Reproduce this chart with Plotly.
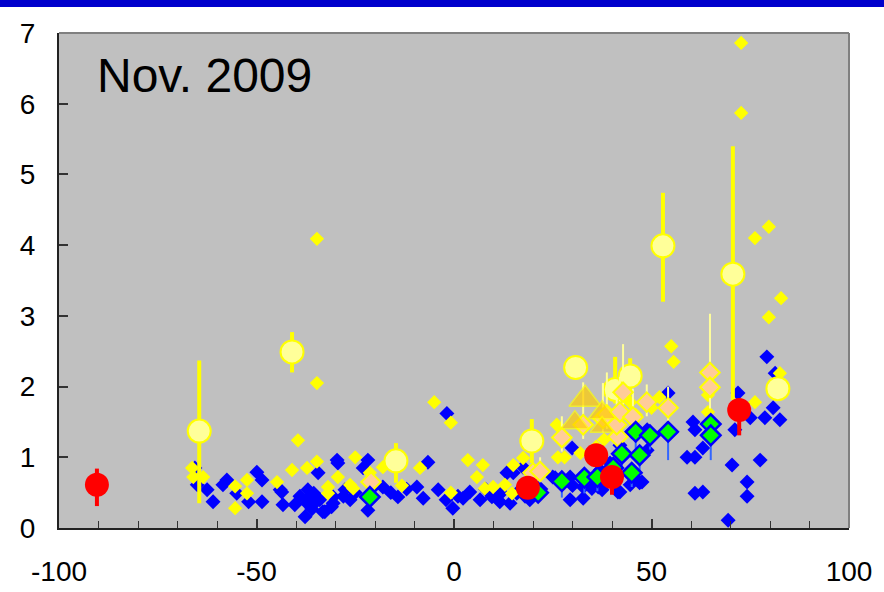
import plotly.graph_objects as go

# ---------------- data ----------------
blue_x = [-65.6, -65, -62.5, -61, -58.5, -57.5, -55, -49.9, -48.6, -52, -48.6, -44, -43.6, -43.3, -40.3,
          -37.7, -37, -37, -35.7, -34.4, -33.2, -29.6, -30.6, -29.4, -21.8, -37.2, -35.5, -32.7, -30.6,
          -27.6, -26.3, -21.8, -18, -14.2, -9.4, -7.8, -6.6, -4, -0.3, 2.3, 4, 6.6, 9.6, 11.6, 14.2, 15.9,
          15, 17.5, 25, -1.8, -39, -36, -34, -31, -28, -25, -23, -20, -16, -12, -2, 1, 8, 12, 18, 20, 22,
          25.6, 29.9, 29.4, 32.7, 30, 36.5, 41.5, 44.6, 47, 60.5, 61, 63, 59, 61, 61, 63, 70.4, 74.2, 74.2,
          69.4, 77.5, 79.2, 80.8, 82.5, 78.7, 71.9, 71.1, 75, 81.3, 34.9, 37.5, 42, 47.6, 29.4, 32.7, 39.5,
          37, 45, 48.9, 54.2, 42, 48.9, 19.2, 13.4]
blue_y = [0.85, 0.61, 0.54, 0.37, 0.61, 0.68, 0.49, 0.79, 0.68, 0.37, 0.37, 0.54, 0.51, 0.33, 0.33,
          0.16, 0.54, 0.42, 0.33, 0.78, 0.23, 0.96, 0.35, 0.92, 0.96, 0.35, 0.49, 0.23, 0.44,
          0.54, 0.40, 0.25, 0.58, 0.44, 0.58, 0.42, 0.93, 0.54, 0.28, 0.42, 0.51, 0.40, 0.44, 0.37, 0.35, 0.49,
          0.78, 0.86, 0.72, 1.62, 0.45, 0.27, 0.40, 0.30, 0.45, 0.50, 0.85, 0.60, 0.50, 0.55, 0.40, 0.45, 0.55, 0.50, 0.45, 0.50, 0.55,
          0.71, 1.13, 0.40, 0.42, 0.60, 0.58, 0.51, 0.61, 0.64, 1.50, 1.39, 1.13, 1.00, 1.00, 0.49, 0.51, 0.89, 0.65, 0.45,
          0.11, 0.96, 2.42, 1.70, 1.53, 1.56, 1.91, 1.39, 1.56, 2.19, 0.56, 0.54, 0.51, 0.65, 0.72, 0.58, 0.92,
          0.82, 1.36, 1.39, 1.91, 1.17, 1.10, 0.40, 0.78]

yellow_x = [72.7, 72.7, 76.2, 79.7, 79.7, 82.8, -34.7, -34.7, 55, 55.6, -39.5, -5, -0.8, -66.3, -63.5, -66,
            -55.4, -52.4, -52.4, -55.4, -44.8, -41, -37.2, -34.7, -31.9, -31.9, -29.4, -25, -26.3, -25.5,
            -18, -21.3, -13.2, -8.6, 3.5, 7.3, 5.8, 7.8, 9.9, 12.9, 14.7, -0.8, 15, 17.5, 26, 26.3, 28,
            44.6, 52, 64.3, 76.2, 82.5, 32, 64.3, 36, 38, 46, 50]
yellow_y = [6.86, 5.87, 4.10, 4.26, 2.98, 3.25, 4.09, 2.05, 2.57, 2.35, 1.24, 1.78, 1.49, 0.85, 0.72, 0.72,
            0.59, 0.68, 0.49, 0.28, 0.65, 0.82, 0.85, 0.94, 0.58, 0.49, 0.72, 1.00, 0.61, 0.56,
            0.86, 0.78, 0.60, 0.85, 0.96, 0.89, 0.72, 0.56, 0.58, 0.61, 0.49, 0.50, 0.89, 0.99, 1.46, 1.00, 1.00,
            1.78, 1.85, 1.64, 1.78, 2.19, 1.06, 1.88, 1.15, 1.25, 1.60, 1.70]

circle_x = [-64.5, -41, -14.7, 19.7, 30.8, 40.8, 44.6, 52.9, 70.6, 82]
circle_y = [1.37, 2.49, 0.95, 1.23, 2.27, 1.96, 2.15, 3.99, 3.59, 1.97]
circle_eplus = [1.00, 0.28, 0.25, 0.31, 0.0, 0.46, 0.25, 0.75, 1.81, 0.0]
circle_eminus = [1.02, 0.29, 0.31, 0.31, 0.0, 0.20, 0.20, 0.79, 1.78, 0.0]

tri_x = [33.2, 30.6, 37.5, 37.5]
tri_y = [1.82, 1.49, 1.63, 1.43]
tri_size = [28, 24, 24, 21]

peach_x = [-21, 20, 21.8, 27.3, 32.7, 37.7, 38.7, 41.5, 41.2, 42, 42.8, 45.3, 48.8, 54.2, 64.8, 64.8]
peach_y = [0.65, 0.78, 0.80, 1.28, 1.46, 1.55, 1.60, 1.29, 1.46, 1.64, 1.92, 1.57, 1.78, 1.70, 2.20, 1.99]
peach_eplus = [0.1, 0.1, 0.2, 0.3, 0.6, 0.5, 0.6, 0.3, 0.4, 0.5, 0.68, 0.4, 0.25, 0.3, 0.83, 0.3]
peach_eminus = [0.1, 0.1, 0.1, 0.2, 0.2, 0.2, 0.2, 0.2, 0.2, 0.2, 0.2, 0.2, 0.2, 0.2, 0.2, 0.3]

green_x = [-21.3, 21.3, 27.3, 33, 36.3, 40.3, 45, 42.5, 47, 46, 49.6, 54.2, 65, 65]
green_y = [0.44, 0.50, 0.66, 0.71, 0.72, 0.85, 0.78, 1.05, 1.03, 1.36, 1.31, 1.36, 1.47, 1.31]
green_eplus = [0.05, 0.05, 0.1, 0.1, 0.1, 0.1, 0.1, 0.1, 0.1, 0.1, 0.1, 0.1, 0.1, 0.1]
green_eminus = [0.05, 0.1, 0.23, 0.22, 0.2, 0.2, 0.2, 0.2, 0.25, 0.3, 0.2, 0.4, 0.3, 0.35]

red_x = [-90.4, 18.7, 36, 40, 72.2]
red_y = [0.61, 0.57, 1.03, 0.72, 1.67]
red_eplus = [0.23, 0.0, 0.0, 0.0, 0.1]
red_eminus = [0.30, 0.0, 0.0, 0.25, 0.36]

x_ticks = [-100, -50, 0, 50, 100]
y_ticks = [0, 1, 2, 3, 4, 5, 6, 7]
label = "Nov. 2009"

# ---------------- figure ----------------
fig = go.Figure()

fig.add_trace(go.Scatter(x=blue_x, y=blue_y, mode="markers",
                         marker=dict(symbol="diamond", size=11.5, color="#0000FF", line=dict(width=0))))
fig.add_trace(go.Scatter(x=yellow_x, y=yellow_y, mode="markers",
                         marker=dict(symbol="diamond", size=11, color="#FFFF00", line=dict(width=0))))
fig.add_trace(go.Scatter(x=circle_x, y=circle_y, mode="markers",
                         error_y=dict(type="data", symmetric=False, array=circle_eplus,
                                      arrayminus=circle_eminus, color="#FFFF00", thickness=4, width=0),
                         marker=dict(symbol="circle", size=23, color="#FFFF99",
                                     line=dict(width=2, color="#FFFF00"))))
fig.add_trace(go.Scatter(x=peach_x, y=peach_y, mode="markers",
                         error_y=dict(type="data", symmetric=False, array=peach_eplus,
                                      arrayminus=peach_eminus, color="#FFFF99", thickness=2, width=0),
                         marker=dict(symbol="diamond", size=15, color="#FFCC99",
                                     line=dict(width=2, color="#FFFF00"))))
fig.add_trace(go.Scatter(x=tri_x, y=tri_y, mode="markers",
                         marker=dict(symbol="triangle-up", size=tri_size, color="#FFCC00",
                                     line=dict(width=1.5, color="#FFFF00"))))
fig.add_trace(go.Scatter(x=green_x, y=green_y, mode="markers",
                         error_y=dict(type="data", symmetric=False, array=green_eplus,
                                      arrayminus=green_eminus, color="#3366FF", thickness=2, width=0),
                         marker=dict(symbol="diamond", size=15, color="#00FF00",
                                     line=dict(width=2.5, color="#0000FF"))))
fig.add_trace(go.Scatter(x=red_x, y=red_y, mode="markers",
                         error_y=dict(type="data", symmetric=False, array=red_eplus,
                                      arrayminus=red_eminus, color="#FF0000", thickness=4, width=0),
                         marker=dict(symbol="circle", size=24, color="#FF0000", line=dict(width=0))))

font_family = "Liberation Sans, Arial, sans-serif"

fig.update_layout(
    width=884, height=592,
    margin=dict(l=59, r=35, t=33, b=64, pad=0, autoexpand=False),
    paper_bgcolor="white",
    plot_bgcolor="#C0C0C0",
    showlegend=False,
    font=dict(family=font_family, size=28, color="black"),
    xaxis=dict(range=[-100, 100], tickvals=x_ticks, ticktext=[str(v) for v in x_ticks],
               ticks="inside", ticklen=9, tickwidth=1.5, tickcolor="#333333",
               minor=dict(dtick=10, ticks="inside", ticklen=7, tickwidth=1.2, tickcolor="#333333"),
               showgrid=False, zeroline=False, showline=True, linecolor="#222222", linewidth=2,
               automargin=False,
               ticklabelstandoff=17, tickfont=dict(size=28, family=font_family)),
    yaxis=dict(range=[0, 7], tickvals=y_ticks, ticktext=[str(v) for v in y_ticks],
               ticks="inside", ticklen=9, tickwidth=1.5, tickcolor="#333333",
               showgrid=False, zeroline=False, showline=True, linecolor="#222222", linewidth=2,
               automargin=False,
               ticklabelstandoff=16, tickfont=dict(size=28, family=font_family)),
    shapes=[
        dict(type="line", xref="paper", yref="paper", x0=0, x1=1, y0=1, y1=1,
             line=dict(color="#808080", width=2)),
        dict(type="line", xref="paper", yref="paper", x0=1, x1=1, y0=0, y1=1,
             line=dict(color="#808080", width=2)),
        dict(type="rect", xref="paper", yref="paper", x0=-59 / 790, x1=1 + 35 / 790,
             y0=(495 + 26) / 495, y1=(495 + 34) / 495, fillcolor="#0000CC", line=dict(width=0)),
    ],
    annotations=[
        dict(text=label, xref="paper", yref="paper", x=0.046, y=0.914, xanchor="left",
             yanchor="middle", showarrow=False, font=dict(size=48, family=font_family, color="black")),
    ],
)

fig.write_html("out.html")
